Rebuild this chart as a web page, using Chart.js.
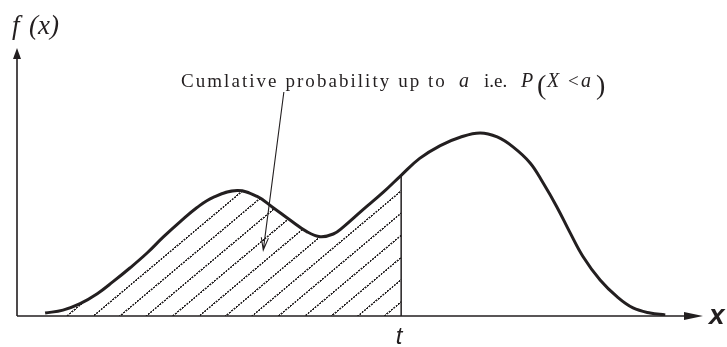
<!DOCTYPE html>
<html>
<head>
<meta charset="utf-8">
<script src="https://cdn.jsdelivr.net/npm/chart.js@4.4.1/dist/chart.umd.min.js"></script>
<style>
  html, body { margin: 0; padding: 0; background: #fff; }
  canvas { display: block; }
</style>
</head>
<body>
<canvas id="ctx" width="727" height="347"></canvas>
<script>
// density curve f(x)
const xs = [0.41, 0.67, 0.92, 1.17, 1.40, 1.65, 1.90, 2.13, 2.38, 2.62, 2.86, 3.21, 3.50, 3.73, 3.98, 4.23, 4.42, 4.61, 4.75, 5.04, 5.34, 5.60,
            5.87, 6.17, 6.46, 6.75, 7.00, 7.23, 7.48, 7.67, 7.87, 8.06, 8.25, 8.50, 8.75, 8.98, 9.23, 9.45];
const fx = [0.011, 0.022, 0.046, 0.083, 0.128, 0.180, 0.236, 0.294, 0.352, 0.404, 0.443, 0.468, 0.446, 0.405, 0.358, 0.314, 0.296, 0.306, 0.331, 0.396, 0.462, 0.525,
            0.588, 0.636, 0.667, 0.683, 0.668, 0.631, 0.571, 0.496, 0.407, 0.312, 0.222, 0.134, 0.071, 0.030, 0.011, 0.004];
const tValue = 5.60;          // upper limit of the shaded area
const xRange = [0, 10];
const yRange = [0, 1];
const axisNames = ['f', '(x)', 'x', 't'];
const noteText = 'Cumlative probability up to';
// arrow from the note down into the shaded region (data units)
const noteArrowFrom = { x: 3.89, y: 0.836 };
const noteArrowTo = { x: 3.59, y: 0.246 };

const INK = '#231f20';

const curvePts = xs.map((x, i) => ({ x, y: fx[i] }));
const tIdx = xs.indexOf(tValue);
const shadedPts = curvePts.slice(0, tIdx + 1);

const canvas = document.getElementById('ctx');
const ctx2d = canvas.getContext('2d');

// dashed diagonal hatching, tile drawn at 2x and scaled down
function makeHatch() {
  const tile = document.createElement('canvas');
  tile.width = 6; tile.height = 34;
  const c = tile.getContext('2d');
  c.fillStyle = INK;
  c.fillRect(0, 16, 4, 3);
  const p = ctx2d.createPattern(tile, 'repeat');
  p.setTransform(new DOMMatrix().translate(67, 316).rotate(-40).scale(0.5).translate(0, -17.5));
  return p;
}

function arrowHead(ctx, tipX, tipY, ang, len, half) {
  ctx.beginPath();
  ctx.moveTo(tipX, tipY);
  ctx.lineTo(tipX - len * Math.cos(ang) + half * Math.sin(ang), tipY - len * Math.sin(ang) - half * Math.cos(ang));
  ctx.lineTo(tipX - len * Math.cos(ang) - half * Math.sin(ang), tipY - len * Math.sin(ang) + half * Math.cos(ang));
  ctx.closePath();
  ctx.fill();
}

const axesPlugin = {
  id: 'axes',
  beforeDatasetsDraw(chart) {
    const { ctx, chartArea: a } = chart;
    ctx.save();
    ctx.strokeStyle = INK;
    ctx.fillStyle = INK;
    ctx.lineWidth = 1.6;
    ctx.beginPath();
    ctx.moveTo(a.left, a.bottom);
    ctx.lineTo(a.right - 10, a.bottom);
    ctx.moveTo(a.left, a.bottom);
    ctx.lineTo(a.left, a.top + 8);
    ctx.stroke();
    arrowHead(ctx, a.right, a.bottom, 0, 19, 4);
    arrowHead(ctx, a.left, a.top, -Math.PI / 2, 11, 4);
    ctx.restore();
  }
};

const labelsPlugin = {
  id: 'labels',
  afterDraw(chart) {
    const { ctx, chartArea: a, scales: { x, y } } = chart;
    ctx.save();
    ctx.fillStyle = INK;
    ctx.strokeStyle = INK;
    ctx.textBaseline = 'alphabetic';

    // axis names
    ctx.font = 'italic 27px "Liberation Serif"';
    ctx.fillText(axisNames[0], 12, 34);
    ctx.fillText(axisNames[1], 29, 34);
    ctx.font = 'italic bold 28px "Liberation Sans"';
    ctx.fillText(axisNames[2], a.right + 6, a.bottom + 8);
    ctx.font = 'italic 24px "Liberation Sans"';
    ctx.textAlign = 'center';
    ctx.fillText(axisNames[3], x.getPixelForValue(tValue) - 2, 344);
    ctx.textAlign = 'left';

    // note, slightly spread lettering
    ctx.font = '19px "Liberation Serif"';
    const target = 447 - 181;
    const plain = ctx.measureText(noteText).width;
    ctx.letterSpacing = Math.max(0, (target - plain) / noteText.length).toFixed(2) + 'px';
    ctx.fillText(noteText, 181, 87);
    ctx.letterSpacing = '0px';
    ctx.font = 'italic 20px "Liberation Serif"';
    ctx.fillText('a', 459, 87);
    ctx.font = '19px "Liberation Serif"';
    ctx.fillText('i.e.', 484, 87);
    ctx.font = 'italic 20px "Liberation Serif"';
    ctx.fillText('P', 521, 87);
    ctx.fillText('X', 547, 87);
    ctx.fillText('a', 581, 87);
    ctx.font = '19px "Liberation Serif"';
    ctx.fillText('<', 568, 87);
    ctx.font = '28px "Liberation Serif"';
    ctx.fillText('(', 537, 94);
    ctx.fillText(')', 596, 94);

    // pointer into the shaded area
    const x0 = x.getPixelForValue(noteArrowFrom.x), y0 = y.getPixelForValue(noteArrowFrom.y);
    const x1 = x.getPixelForValue(noteArrowTo.x), y1 = y.getPixelForValue(noteArrowTo.y);
    const ang = Math.atan2(y1 - y0, x1 - x0);
    ctx.lineWidth = 1.1;
    ctx.beginPath();
    ctx.moveTo(x0, y0);
    ctx.lineTo(x1, y1);
    const arm = 13, spread = 0.28;
    ctx.moveTo(x1 - arm * Math.cos(ang - spread), y1 - arm * Math.sin(ang - spread));
    ctx.lineTo(x1, y1);
    ctx.lineTo(x1 - arm * Math.cos(ang + spread), y1 - arm * Math.sin(ang + spread));
    ctx.stroke();
    ctx.restore();
  }
};

new Chart(canvas, {
  type: 'line',
  data: {
    datasets: [
      {
        data: curvePts,
        borderColor: INK,
        borderWidth: 3,
        tension: 0.4,
        fill: false,
        pointRadius: 0
      },
      {
        data: [{ x: tValue, y: 0 }, { x: tValue, y: fx[tIdx] }],
        borderColor: INK,
        borderWidth: 1.5,
        fill: false,
        pointRadius: 0
      },
      {
        data: shadedPts,
        borderWidth: 0,
        borderColor: 'rgba(0,0,0,0)',
        backgroundColor: makeHatch(),
        tension: 0.4,
        fill: 'origin',
        pointRadius: 0
      }
    ]
  },
  options: {
    responsive: false,
    animation: false,
    devicePixelRatio: 1,
    layout: { padding: { left: 17, right: 24, top: 48, bottom: 31 } },
    scales: {
      x: { type: 'linear', min: xRange[0], max: xRange[1], display: false },
      y: { min: yRange[0], max: yRange[1], display: false }
    },
    plugins: {
      legend: { display: false },
      tooltip: { enabled: false }
    }
  },
  plugins: [axesPlugin, labelsPlugin]
});
</script>
</body>
</html>
